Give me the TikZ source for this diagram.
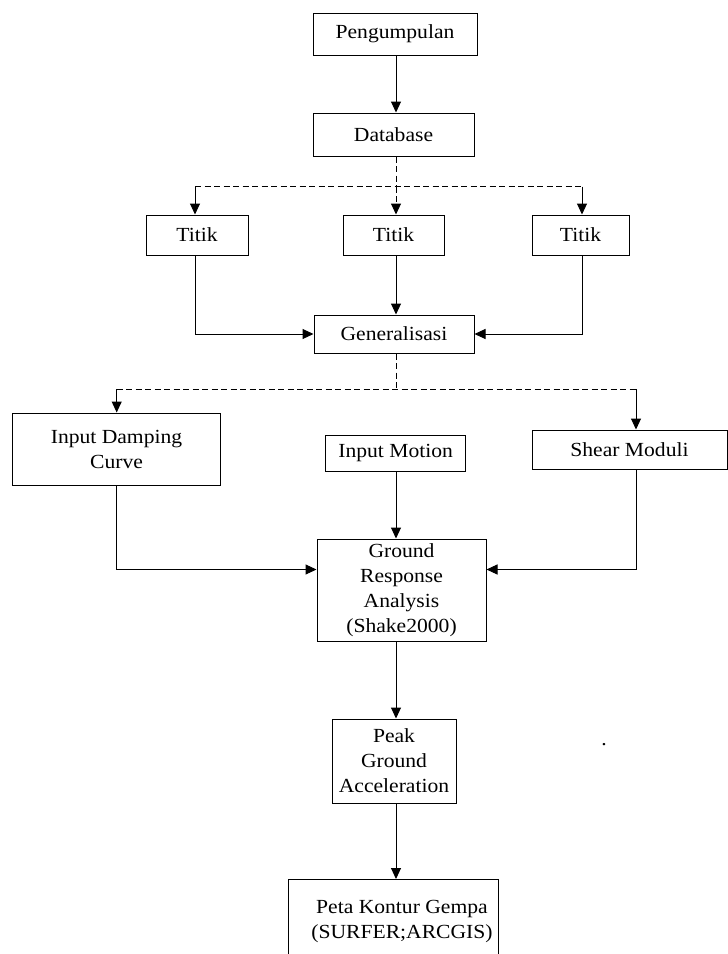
\documentclass[tikz,border=0pt]{standalone}
\usepackage{fontspec}
\setmainfont{Liberation Serif}[FakeStretch=1.08]
\usetikzlibrary{arrows.meta}
\begin{document}
\begin{tikzpicture}[x=1bp,y=-1bp,
  box/.style={draw,line width=1bp,inner sep=0pt,align=center,font=\fontsize{20bp}{25bp}\selectfont},
  txt/.style={inner sep=0pt,align=center,font=\fontsize{20bp}{25bp}\selectfont},
  arr/.style={line width=1bp,-{Triangle[length=11bp,width=10bp]}},
  dline/.style={line width=1bp,dash pattern=on 6bp off 3.5bp}]
\useasboundingbox (0,0) rectangle (728,954);
\fill[white] (0,0) rectangle (728,954);
% nodes
\node[box,minimum width=164bp,minimum height=42bp] (peng) at (395,34) {Pengumpulan};
\node[box,minimum width=161bp,minimum height=43bp] (db) at (393.5,134.5) {Database};
\node[box,minimum width=102bp,minimum height=40bp] (t1) at (197,235) {Titik};
\node[box,minimum width=101bp,minimum height=40bp] (t2) at (393.5,235) {Titik};
\node[box,minimum width=97bp,minimum height=40bp] (t3) at (580.5,235) {Titik};
\node[box,minimum width=160bp,minimum height=38bp] (gen) at (394,334) {Generalisasi};
\node[box,minimum width=207bp,minimum height=72bp] (idc) at (116.5,449) {Input Damping\\Curve};
\node[box,minimum width=140bp,minimum height=36bp] (im) at (395.7,453) {Input Motion};
\node[box,minimum width=195bp,minimum height=39bp] (sm) at (629.5,449.5) {Shear Moduli};
\node[box,minimum width=169bp,minimum height=102bp] (gra) at (401.5,590) {Ground\\Response\\Analysis\\(Shake2000)};
\node[box,minimum width=124bp,minimum height=84bp] (pga) at (394,761) {Peak\\Ground\\Acceleration};
\node[box,minimum width=210bp,minimum height=110bp,anchor=north] (peta) at (393,879) {};
\node[txt] (petat) at (402,921) {Peta Kontur Gempa\\(SURFER;ARCGIS)};
\node[txt,anchor=base] (dot) at (604,745) {.};
% helper coordinates
\coordinate (cx) at (396,0);
\coordinate (c1) at (396,186.5);
\coordinate (l1) at (195,186.5);
\coordinate (r1) at (582,186.5);
\coordinate (c2) at (396,389);
\coordinate (l2) at (116.7,389);
\coordinate (r2) at (636,389);
\coordinate (h) at (0,569.5);
% connectors
\draw[arr] (cx |- peng.south) -- (cx |- db.north);
\draw[dline] (cx |- db.south) -- (c1);
\draw[dline] (l1) -- (r1);
\draw[arr] (l1) -- (l1 |- t1.north);
\draw[arr] (r1) -- (r1 |- t3.north);
\draw[arr,dline] (c1) -- (cx |- t2.north);
\draw[arr] (l1 |- t1.south) |- (gen.west);
\draw[arr] (cx |- t2.south) -- (cx |- gen.north);
\draw[arr] (r1 |- t3.south) |- (gen.east);
\draw[dline] (cx |- gen.south) -- (c2);
\draw[dline] (l2) -- (r2);
\draw[arr] (l2) -- (l2 |- idc.north);
\draw[arr] (r2) -- (r2 |- sm.north);
\draw[arr] (cx |- im.south) -- (cx |- gra.north);
\draw[arr] (l2 |- idc.south) -- (l2 |- h) -- (gra.west |- h);
\draw[arr] (r2 |- sm.south) -- (r2 |- h) -- (gra.east |- h);
\draw[arr] (cx |- gra.south) -- (cx |- pga.north);
\draw[arr] (cx |- pga.south) -- (cx |- peta.north);
\end{tikzpicture}
\end{document}
